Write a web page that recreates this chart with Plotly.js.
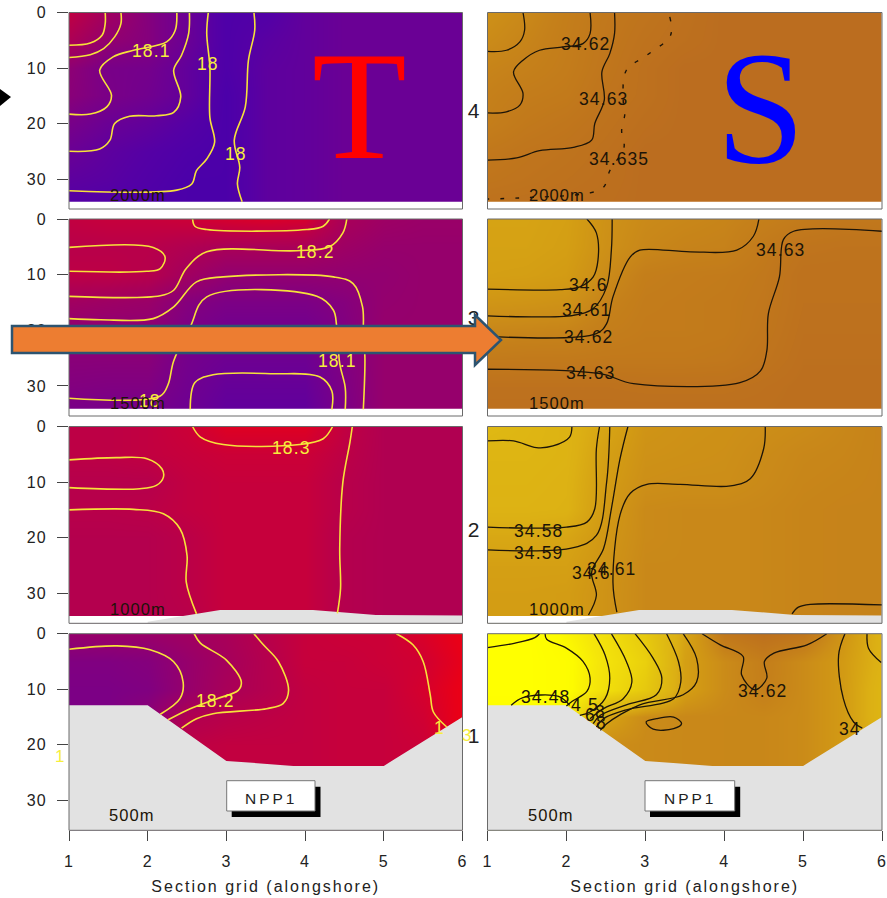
<!DOCTYPE html>
<html><head><meta charset="utf-8">
<script src="https://cdn.plot.ly/plotly-3.0.1.min.js"></script>
<style>
html,body{margin:0;padding:0;background:#fff}
svg text{letter-spacing:1.1px}
text[class$="title"]{letter-spacing:2px}
</style></head><body><div id="chart" style="width:887px;height:898px"></div>
<script>
// ---------- DATA ----------
const gridX=[1,1.5,2,2.5,3,3.5,4,4.5,5,5.5,6];
const gridDepth=[0,5,10,15,20,25,30,34];
const xTicks=[1,2,3,4,5,6];
const depthTicks=[0,10,20,30];
const tempLevels=[17.95,18.0,18.05,18.1,18.15,18.2,18.25,18.3,18.35,18.4];
const tempColors=['#4500ac','#5500a5','#6a0095','#7c0085','#920070','#a5005c','#b8004a','#d00032','#e80018','#f50010'];
const salLevels=[34.46,34.48,34.5,34.52,34.54,34.56,34.58,34.6,34.61,34.62,34.63,34.64,34.66];
const salColors=['#ffff00','#fdfb00','#f5e60a','#eed80c','#e6c80e','#e0bc12','#dcb014','#d29a14','#cc8e18','#c5801a','#c0761c','#bb6d1f','#b5651f'];

const T4=[[18.27,18.19,18.12,18.05,17.98,17.99,18.03,18.05,18.05,18.05,18.05],
[18.22,18.15,18.12,18.05,17.98,18.01,18.03,18.05,18.05,18.05,18.05],
[18.14,18.09,18.08,18.03,17.98,18.02,18.03,18.05,18.05,18.05,18.05],
[18.13,18.095,18.07,18.03,17.97,18.02,18.03,18.05,18.05,18.05,18.05],
[18.09,18.05,18.03,18.0,17.97,18.02,18.03,18.05,18.05,18.05,18.05],
[18.05,18.02,18.0,17.98,17.97,18.02,18.03,18.05,18.05,18.05,18.05],
[18.02,18.01,17.99,17.97,17.97,18.02,18.03,18.05,18.05,18.05,18.05],
[18.0,17.99,17.98,17.97,17.97,18.02,18.03,18.05,18.05,18.05,18.05]];
const T3=[[18.27,18.28,18.28,18.29,18.31,18.32,18.31,18.21,18.18,18.17,18.17],
[18.25,18.25,18.25,18.23,18.21,18.21,18.21,18.18,18.16,18.16,18.16],
[18.26,18.26,18.245,18.19,18.15,18.15,18.15,18.15,18.15,18.16,18.16],
[18.19,18.18,18.17,18.12,18.1,18.1,18.1,18.12,18.155,18.16,18.16],
[18.145,18.14,18.14,18.1,18.07,18.07,18.07,18.11,18.16,18.16,18.16],
[18.13,18.13,18.13,18.08,18.06,18.06,18.06,18.11,18.16,18.16,18.16],
[18.115,18.11,18.11,18.07,18.04,18.04,18.04,18.105,18.16,18.16,18.16],
[18.095,18.09,18.09,18.06,18.03,18.03,18.03,18.1,18.16,18.16,18.16]];
const T2=[[18.26,18.26,18.27,18.29,18.33,18.33,18.33,18.27,18.23,18.23,18.23],
[18.26,18.26,18.27,18.28,18.29,18.29,18.29,18.26,18.23,18.23,18.23],
[18.245,18.245,18.245,18.27,18.28,18.28,18.28,18.25,18.23,18.23,18.23],
[18.25,18.25,18.255,18.27,18.28,18.28,18.28,18.25,18.23,18.23,18.23],
[18.24,18.24,18.24,18.255,18.28,18.28,18.28,18.24,18.23,18.23,18.23],
[18.24,18.24,18.24,18.255,18.28,18.28,18.28,18.24,18.23,18.23,18.23],
[18.24,18.24,18.24,18.255,18.28,18.28,18.28,18.24,18.23,18.23,18.23],
[18.24,18.24,18.24,18.25,18.28,18.28,18.28,18.24,18.23,18.23,18.23]];
const T1=[[18.16,18.17,18.17,18.19,18.21,18.25,18.28,18.29,18.29,18.32,18.36],
[18.11,18.11,18.12,18.16,18.2,18.24,18.28,18.28,18.29,18.3,18.35],
[18.1,18.1,18.11,18.16,18.21,18.24,18.27,18.28,18.28,18.31,18.36],
[18.1,18.1,18.14,18.23,18.25,18.26,18.27,18.28,18.28,18.3,18.36],
[18.1,18.12,18.2,18.26,18.27,18.27,18.27,18.28,18.28,18.29,18.34],
[18.1,18.12,18.2,18.26,18.27,18.27,18.27,18.28,18.28,18.29,18.34],
[18.1,18.12,18.2,18.26,18.27,18.27,18.27,18.28,18.28,18.29,18.34],
[18.1,18.12,18.2,18.26,18.27,18.27,18.27,18.28,18.28,18.29,18.34]];
const S4=[[34.608,34.614,34.622,34.628,34.632,34.636,34.64,34.64,34.64,34.64,34.64],
[34.612,34.617,34.623,34.629,34.634,34.637,34.64,34.64,34.64,34.64,34.64],
[34.617,34.62,34.624,34.63,34.636,34.64,34.64,34.64,34.64,34.64,34.64],
[34.62,34.624,34.626,34.632,34.636,34.64,34.64,34.64,34.64,34.64,34.64],
[34.622,34.627,34.63,34.634,34.638,34.64,34.64,34.64,34.64,34.64,34.64],
[34.628,34.631,34.633,34.636,34.64,34.64,34.64,34.64,34.64,34.64,34.64],
[34.631,34.633,34.635,34.637,34.64,34.64,34.64,34.64,34.64,34.64,34.64],
[34.635,34.636,34.637,34.638,34.64,34.64,34.64,34.64,34.64,34.64,34.64]];
const S3=[[34.592,34.592,34.595,34.607,34.613,34.615,34.617,34.621,34.625,34.628,34.628],
[34.593,34.593,34.596,34.608,34.615,34.618,34.619,34.626,34.632,34.633,34.633],
[34.595,34.596,34.599,34.612,34.622,34.624,34.625,34.628,34.635,34.635,34.635],
[34.604,34.605,34.607,34.618,34.624,34.625,34.626,34.629,34.635,34.635,34.635],
[34.615,34.616,34.617,34.622,34.625,34.625,34.626,34.63,34.636,34.636,34.636],
[34.625,34.626,34.626,34.627,34.627,34.627,34.628,34.632,34.637,34.637,34.637],
[34.635,34.635,34.635,34.635,34.634,34.634,34.634,34.636,34.638,34.638,34.638],
[34.637,34.637,34.637,34.637,34.637,34.637,34.637,34.637,34.638,34.638,34.638]];
const S2=[[34.565,34.57,34.575,34.59,34.605,34.607,34.608,34.61,34.612,34.615,34.618],
[34.572,34.572,34.575,34.595,34.607,34.608,34.609,34.612,34.615,34.616,34.618],
[34.574,34.574,34.577,34.598,34.609,34.61,34.61,34.613,34.616,34.617,34.618],
[34.576,34.576,34.578,34.6,34.613,34.614,34.614,34.615,34.617,34.618,34.618],
[34.588,34.588,34.59,34.603,34.613,34.614,34.614,34.615,34.617,34.618,34.618],
[34.595,34.595,34.595,34.605,34.614,34.614,34.614,34.615,34.617,34.618,34.618],
[34.597,34.597,34.598,34.606,34.614,34.614,34.614,34.615,34.617,34.618,34.618],
[34.597,34.597,34.598,34.606,34.614,34.614,34.614,34.615,34.617,34.618,34.618]];
const S1=[[34.46,34.46,34.485,34.51,34.54,34.59,34.628,34.636,34.63,34.605,34.575],
[34.46,34.46,34.475,34.505,34.53,34.595,34.612,34.622,34.612,34.6,34.575],
[34.46,34.46,34.475,34.51,34.54,34.595,34.612,34.621,34.612,34.6,34.57],
[34.47,34.47,34.49,34.59,34.612,34.614,34.615,34.615,34.612,34.6,34.57],
[34.47,34.47,34.55,34.61,34.613,34.614,34.615,34.615,34.612,34.6,34.58],
[34.47,34.47,34.55,34.61,34.613,34.614,34.615,34.615,34.612,34.6,34.58],
[34.47,34.47,34.55,34.61,34.613,34.614,34.615,34.615,34.612,34.6,34.58],
[34.47,34.47,34.55,34.61,34.613,34.614,34.615,34.615,34.612,34.6,34.58]];

// contour lines: [x values, depth values]
const T4lines=[
[[1.46,1.46,1.42,1.27,1],[0,2,4.1,5.5,5.9]],
[[1.66,1.66,1.58,1.44,1.27,1],[0,2,4.4,6.5,7.6,8.1]],
[[2.37,2.35,2.24,1.82,1.56,1.39,1.54,1.48,1.27,1],[0,3.2,5.3,6.8,8,10.4,14.9,17,18.3,18.3]],
[[2.53,2.52,2.43,2.33,2.42,2.33,2.11,1.77,1.58,1.52,1.39,1],[0,3.8,7.7,10.4,15.2,18,18.6,18.7,20,23,24.6,25]],
[[2.77,2.75,2.79,2.79,2.85,2.75,2.62,2.56,2.37,1],[0,3.8,9.8,18.9,23.4,26.4,28.5,30.9,32,32.1]],
[[3.35,3.36,3.28,3.24,3.1,3.17,3.14,3.2],[0,3.2,8.6,17,23,27.9,30.9,34.1]]];
const T3lines=[
[[2.57,2.6,2.75,4.02,4.23,4.31],[0,1.3,1.9,1.9,1.3,0]],
[[1,2.07,2.22,2.16,1.99,1],[5.1,5.1,6.8,8.9,9.4,9.4]],
[[1,2.16,2.33,2.49,2.75,3.89,4.31,4.48,4.53],[13.9,13.8,12.8,8.9,5.9,5.7,5,2.5,0]],
[[1,1.4,2.07,2.33,2.62,2.96,4.36,4.61,4.73,4.74,4.76,4.74],[17.9,18.1,17.9,15.8,11.3,10.4,10.4,11.6,15.8,20.6,24.9,34.2]],
[[1,2.16,2.26,2.33,2.54,2.75,4.15,4.36,4.4,4.44,4.51,4.51],[32.2,31.8,29.7,25.5,19.4,14,13.9,16.4,19.1,26,30.3,34.2]],
[[2.54,2.6,2.83,3.6,4.19,4.34,4.34],[34.2,29.4,28,27.8,28.4,30.9,34.2]]];
const T2lines=[
[[2.57,2.67,2.96,3.93,4.23,4.35],[0,1.9,3.25,3.25,2.2,0]],
[[1,1.6,1.99,2.18,2.2,2.11,1.9,1],[6,5.6,5.8,7.6,9.1,10.6,11.2,11]],
[[1,1.82,2.2,2.41,2.5,2.49,2.62],[15,14.9,15.7,18.4,23.2,28,33.7]],
[[4.6,4.57,4.48,4.44,4.45,4.41],[0,2.8,10,22,29.2,33.6]]];
const T1lines=[
[[1,1.61,2.03,2.33,2.45,2.41,2.16],[2.8,2.2,2.9,5.05,8.7,11.7,14.5]],
[[2.59,2.67,3.0,3.19,3.15,2.88,2.54,2.26],[0,1.7,4.75,8.7,10.2,11.7,13.5,15.5]],
[[3.35,3.47,3.66,3.79,3.72,3.51,2.83,2.62,2.43],[0,2,5,10.2,12.6,13.5,14.4,15.3,17]],
[[5.16,5.37,5.5,5.59,5.63,5.8],[0,2,5,11,14.1,16.8]]];
const S4lines=[
[[1.45,1.47,1.41,1.24,1],[0,3.2,5.3,6.8,7]],
[[2.3,2.3,2.21,1.96,1.66,1.45,1.33,1.45,1.41,1.24,1],[0,3.8,5.6,6.2,6.8,8.6,10.7,14.6,16.7,17.9,18.1]],
[[2.61,2.61,2.55,2.45,2.48,2.36,2.32,2.09,1.66,1.37,1],[0,3.8,7.4,10.7,15.8,20,23,24.3,24.9,26.2,26.6]]];
const S4dashed=[[3.31,3.32,3.02,2.76,2.72,2.74,2.7,2.73,2.55,2.47,2.3,1.41,1],[0.8,4.1,7.7,10.4,15.8,18.3,21.3,24.3,28.5,31.5,32.5,33.4,33.6]];
const S3lines=[
[[2.26,2.38,2.4,2.34,2.17,1.92,1],[0,2.5,7.4,10.4,12.2,12.7,12.6]],
[[2.58,2.57,2.51,2.34,2.09,1],[0,5.6,12.2,16.1,17.3,17.4]],
[[4.44,4.37,4.16,3.57,2.93,2.81,2.59,2.51,2.38,1],[0,3.1,5.6,5.9,5.6,6.8,14,18.8,20.6,21.1]],
[[6,4.88,4.75,4.7,4.56,4.54,4.46,4.2,2.85,2.43,1],[2.2,2.2,3.7,10.4,17,23.7,27.3,29.4,29.6,27.8,27]]];
const S2lines=[
[[2.07,2.04,1.83,1.62,1.33,1],[0,1.9,3.5,3.8,2.6,2.6]],
[[2.42,2.38,2.36,2.26,2,1],[0,4,14.8,17.2,18.1,18.1]],
[[2.55,2.51,2.38,2.09,1],[0,10,19.6,21.8,22.2]],
[[2.78,2.68,2.57,2.47,2.32,2.38,2.28],[0,5.8,14.8,22,26.2,30.4,33.9]],
[[4.52,4.5,4.33,4.08,3.44,3.02,2.81,2.68,2.59,2.64],[0,4,9.4,10.7,10.4,10.4,12,15.9,28,33.4]],
[[4.86,4.94,5.09,6],[33.7,32.5,32,32.1]]];
const S1lines=[
[[1,1.35,1.6,1.66],[2.5,1.7,0.7,0]],
[[1.73,1.75,2,2.21,2.3,2.26,2.07,2],[0,1,2.6,5,8,10.4,12.2,13]],
[[2.35,2.49,2.55,2.49,2.3,2.17],[0,3.85,8,11.7,14.1,14.7]],
[[2.57,2.76,2.83,2.72,2.47,2.3],[0,5,8.7,11.7,13.5,15.3]],
[[2.87,3.1,3.21,3.14,2.76,2.43,2.34],[0,4.45,8,11,12.8,14.7,16.2]],
[[3.27,3.42,3.45,3.36,2.76,2.47,2.38],[0,5,8.7,11.7,13.7,15.3,16.8]],
[[3.48,3.65,3.65,3.48,2.93,2.51,2.43],[0,4.45,8.7,11,12.8,16.2,17.4]],
[[3.72,3.95,4.24,4.22,4.39,4.54,4.51,4.63,5.05,5.3],[0,2,4.1,7.4,10.1,8,5,3.5,2,0]],
[[3.01,3.14,3.36,3.46,3.36,3.1,3.01],[15.9,15.3,15,16.2,17.1,17.2,15.9]],
[[5.53,5.45,5.51,5.64,5.75],[0,3.85,11.7,15.9,17]],
[[5.81,5.83,5.99],[0,2.65,5.2]],
[[1.3,1.45,1.9,2.04],[12.9,11.5,11.3,12.9]]];

// sea bed outlines [x values, depth values]
const bedLow=[[1,2,3,3.85,5,6,6,1,1],[12.9,12.9,22.9,23.8,23.8,15,35.4,35.4,12.9]];
const bedMid=[[2,2.41,2.92,4.1,4.9,6,6,2,2],[35.1,34.2,33,33,33.9,34,35.4,35.4,35.1]];
const stripDepth=34.1;
const axisBottom=35.4;

// text labels [text, x, depth]
const labT4=[['18.1',2.04,6.9],['18',2.77,9.2],['18',3.12,25.5]];
const labT3=[['18.2',4.12,6],['18.1',4.41,25.5],['18',2.03,32.7]];
const labT2=[['18.3',3.82,3.8]];
const labT1=[['18.2',2.85,12.1],['1',5.71,17]];
const labS4=[['34.62',2.24,5.6],['34.63',2.47,15.5],['34.635',2.67,26.4]];
const labS3=[['34.6',2.27,11.9],['34.61',2.26,16.4],['34.62',2.28,21.2],['34.63',2.31,27.6],['34.63',4.71,5.6]];
const labS2=[['34.58',1.65,18.8],['34.59',1.65,22.7],['34.6',2.31,26.3],['34.61',2.57,25.6]];
const labS1=[['34.48',1.73,11.4],['34.62',4.48,10.3],['34',5.59,17.2],['4',2.13,12.8],['5',2.34,12.8],['8',2.43,14.1],['6',2.3,14.6],['8',2.45,16.1]];
const depthNames=['2000m','1500m','1000m','500m'];
const depthNameX=[1.88,1.88,1.88,1.8];
const depthNameY=[32.8,33,32.8,32.7];
const rowNames=['4','3','2','1'];
const rowNameY=[17.7,17.8,18.5,18.4];
const strayLabels=[['1',60,756],['3',468,735]];

// ---------- LAYOUT ----------
const W=887,H=898;
const rows=[[12.5,209],[219,416],[426.5,623.3],[633.7,830.3]];
const cols=[[69,462.5],[487.5,882]];
const px=x=>x/W, py=y=>1-y/H;
function scale(levels,colors){const a=levels[0],b=levels[levels.length-1];return levels.map((v,i)=>[(v-a)/(b-a),colors[i]]);}
const tScale=scale(tempLevels,tempColors), sScale=scale(salLevels,salColors);
const grids=[[T4,S4],[T3,S3],[T2,S2],[T1,S1]];
const linesets=[[T4lines,S4lines],[T3lines,S3lines],[T2lines,S2lines],[T1lines,S1lines]];
const labelsets=[[labT4,labS4],[labT3,labS3],[labT2,labS2],[labT1,labS1]];
const traces=[],ann=[],shapes=[],layout={width:W,height:H,margin:{l:0,r:0,t:0,b:0},paper_bgcolor:'#fff',plot_bgcolor:'#fff',showlegend:false,font:{family:'"Liberation Sans",Arial,sans-serif',size:16,color:'#222'}};
const frame='#6a6a6a';
rows.forEach((r,ri)=>{cols.forEach((c,ci)=>{
  const n=ri*2+ci+1, xa='x'+(n>1?n:''), ya='y'+(n>1?n:'');
  const isT=ci===0;
  traces.push({type:'heatmap',x:gridX,y:gridDepth,z:grids[ri][ci],xaxis:xa,yaxis:ya,zsmooth:'best',showscale:false,hoverinfo:'skip',
    colorscale:isT?tScale:sScale,zmin:isT?tempLevels[0]:salLevels[0],zmax:isT?tempLevels[tempLevels.length-1]:salLevels[salLevels.length-1]});
  traces.push({type:'scatter',mode:'lines',x:[1,6,6,1,1],y:[stripDepth,stripDepth,axisBottom,axisBottom,stripDepth],fill:'toself',fillcolor:'#fff',line:{width:0},xaxis:xa,yaxis:ya,hoverinfo:'skip'});
  const bed=ri===3?bedLow:(ri===2?bedMid:null);
  if(bed)traces.push({type:'scatter',mode:'lines',x:bed[0],y:bed[1],fill:'toself',fillcolor:'#e2e2e2',line:{width:0},xaxis:xa,yaxis:ya,hoverinfo:'skip'});
  linesets[ri][ci].forEach(l=>traces.push({type:'scatter',mode:'lines',x:l[0],y:l[1],xaxis:xa,yaxis:ya,hoverinfo:'skip',
    line:{color:isT?'#f6e23a':'#1c1408',width:isT?1.6:1.3,shape:'spline',smoothing:1}}));
  if(ri===0&&ci===1)traces.push({type:'scatter',mode:'lines',x:S4dashed[0],y:S4dashed[1],xaxis:xa,yaxis:ya,hoverinfo:'skip',line:{color:'#1c1408',width:1.4,dash:'4px,11px',shape:'spline',smoothing:1}});
  const bottom=ri===3;
  layout['xaxis'+(n>1?n:'')]={domain:[px(c[0]),px(c[1])],range:[1,6],anchor:ya,tickvals:xTicks,ticktext:xTicks.map(String),showgrid:false,zeroline:false,
    showline:false,ticks:bottom?'outside':'',ticklen:10,tickcolor:'#444',showticklabels:bottom,ticklabelstandoff:6,tickfont:{size:16,color:'#222'},
    title:bottom?{text:'Section grid (alongshore)',font:{size:16,color:'#222'},standoff:12}:undefined};
  const yy={domain:[py(r[1]),py(r[0])],range:[axisBottom,0],anchor:xa,showgrid:false,zeroline:false,showline:false};
  if(isT)Object.assign(yy,{tickvals:depthTicks,ticktext:depthTicks.map(String),ticks:'outside',ticklen:11,tickcolor:'#444',ticklabelstandoff:7,tickfont:{size:16,color:'#222'}});
  else Object.assign(yy,{tickvals:[rowNameY[ri]],ticktext:[rowNames[ri]],ticks:'',tickfont:{size:21,color:'#222'},ticklabelstandoff:6});
  layout['yaxis'+(n>1?n:'')]=yy;
  labelsets[ri][ci].forEach(l=>ann.push({text:l[0],x:l[1],y:l[2],xref:xa,yref:ya,showarrow:false,font:{size:17.5,color:isT?'#f6ee3c':'#1c1408'}}));
  ann.push({text:depthNames[ri],x:depthNameX[ri],y:depthNameY[ri],xref:xa,yref:ya,showarrow:false,font:{size:16.5,color:'#1c1408'}});
  shapes.push({type:'rect',xref:'paper',yref:'paper',x0:px(c[0]),x1:px(c[1]),y0:py(r[1]),y1:py(r[0]),fillcolor:'rgba(0,0,0,0)',line:{width:1,color:frame}});
});});
const centerAnn=(text,x,y,font)=>ann.push({text,xref:'paper',yref:'paper',x:px(x),y:py(y),xanchor:'center',yanchor:'middle',showarrow:false,font});
strayLabels.forEach(l=>centerAnn(l[0],l[1],l[2],{size:17,color:'#f6ee3c'}));

// NPP1 boxes
[[226.7,315,780.7,811],[645,734.7,780.7,811]].forEach(b=>{
  shapes.push({type:'rect',xref:'paper',yref:'paper',x0:px(b[0]+5),x1:px(b[1]+5.5),y0:py(b[2]+6),y1:py(b[3]+6),fillcolor:'#000',line:{width:0}});
  shapes.push({type:'rect',xref:'paper',yref:'paper',x0:px(b[0]),x1:px(b[1]),y0:py(b[2]),y1:py(b[3]),fillcolor:'#fff',line:{width:1,color:'#777'}});
  centerAnn('<span style="letter-spacing:3px">NPP1</span>',(b[0]+b[1])/2+0.5,798,{size:15.5,color:'#222'});
});
// arrow & pointer
const pathOf=pts=>pts.map((p,i)=>(i?'L':'M')+px(p[0])+','+py(p[1])).join(' ')+' Z';
shapes.push({type:'path',xref:'paper',yref:'paper',path:pathOf([[12,326],[475,326],[475,315],[501,340],[475,365],[475,353],[12,353]]),fillcolor:'#ed7d31',line:{color:'#2d5470',width:2.5}});
shapes.push({type:'path',xref:'paper',yref:'paper',path:pathOf([[0,89],[11,97],[0,106]]),fillcolor:'#000',line:{width:0}});
// big letters
centerAnn('T',360,106,{family:'"Liberation Serif",serif',size:155,color:'#ff0000'});
centerAnn('S',761,108,{family:'"Liberation Serif",serif',size:160,color:'#0000ff'});
layout.annotations=ann;layout.shapes=shapes;
Plotly.newPlot('chart',traces,layout,{displayModeBar:false,staticPlot:true});
</script></body></html>
